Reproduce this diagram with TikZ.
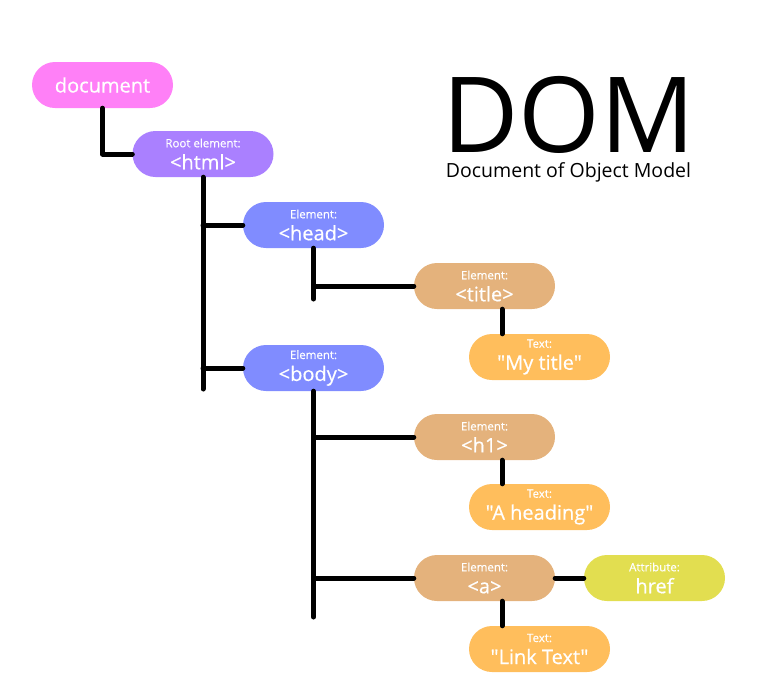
\documentclass[tikz,border=0pt]{standalone}
\usepackage{fontspec}
\setmainfont{Open Sans}[Ligatures=TeXOff]
\newfontfamily\boxfont{Open Sans}[Ligatures=TeXOff, FakeBold=0.5]
\definecolor{docpink}{HTML}{FF80F7}
\definecolor{rootpurple}{HTML}{AA80FF}
\definecolor{elemblue}{HTML}{808CFF}
\definecolor{elemtan}{HTML}{E4B27C}
\definecolor{textorange}{HTML}{FFBE5C}
\definecolor{attryellow}{HTML}{E2DE50}
\newcommand{\kind}[1]{{\fontsize{11.5}{12}\selectfont #1}}
\newcommand{\tag}[1]{{\fontsize{20}{22}\selectfont #1}}
\begin{document}
\begin{tikzpicture}[x=1pt, y=-1pt,
  box/.style={rectangle, rounded corners=23pt, minimum width=141pt, minimum height=46pt,
    inner sep=0pt, text=white, align=center, font=\boxfont\fontsize{20}{22}\selectfont},
  link/.style={line width=5pt, line cap=round, line join=round}]
\useasboundingbox (0,0) rectangle (766,683);

\node[box, fill=docpink] (document) at (102.5, 85) {\tag{document}};
\node[box, fill=rootpurple] (html) at (203, 154) {\kind{Root element:}\\\tag{<html>}};

\node[box, fill=elemblue] (head) at (313.5, 225) {\kind{Element:}\\\tag{<head>}};
\node[box, fill=elemblue] (body) at (313.5, 368) {\kind{Element:}\\\tag{<body>}};

\node[box, fill=elemtan] (title) at (484.5, 286) {\kind{Element:}\\\tag{<title>}};
\node[box, fill=textorange] (mytitle) at (539.5, 357) {\kind{Text:}\\\tag{"My title"}};

\node[box, fill=elemtan] (h1) at (484.5, 437) {\kind{Element:}\\\tag{<h1>}};
\node[box, fill=textorange] (heading) at (539.5, 507) {\kind{Text:}\\\tag{"A heading"}};

\node[box, fill=elemtan] (a) at (484.5, 578) {\kind{Element:}\\\tag{<a>}};
\node[box, fill=attryellow] (href) at (654.5, 578) {\kind{Attribute:}\\\tag{href}};
\node[box, fill=textorange] (linktext) at (539.5, 649) {\kind{Text:}\\\tag{"Link Text"}};

\node[font=\fontsize{105}{105}\selectfont, inner sep=0pt] (dom) at (569, 115) {DOM};
\node[font=\fontsize{19.5}{20}\selectfont, inner sep=0pt] (domsub) at (568.5, 172) {Document of Object Model};

\coordinate (htmlend) at (203, 389);
\coordinate (headend) at (313.5, 299);
\coordinate (bodyend) at (313.5, 617);

\draw[link] (document.south) |- (html.west);

\draw[link] (html.south) -- (htmlend);
\draw[link] (html.south |- head) -- (head.west);
\draw[link] (html.south |- body) -- (body.west);

\draw[link] (head.south) -- (headend);
\draw[link] (head.south |- title) -- (title.west);
\draw[link] ([xshift=17.5pt]title.south) -- ([xshift=17.5pt]title.south |- mytitle.north);

\draw[link] (body.south) -- (bodyend);
\draw[link] (body.south |- h1) -- (h1.west);
\draw[link] (body.south |- a) -- (a.west);
\draw[link] ([xshift=17.5pt]h1.south) -- ([xshift=17.5pt]h1.south |- heading.north);
\draw[link] ([xshift=17.5pt]a.south) -- ([xshift=17.5pt]a.south |- linktext.north);
\draw[link] (a.east) -- (href.west);
\end{tikzpicture}
\end{document}
